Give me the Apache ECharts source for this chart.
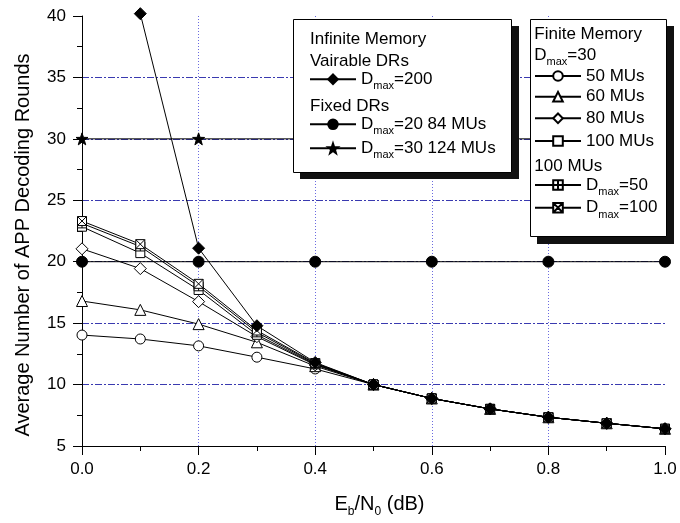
<!DOCTYPE html>
<html><head><meta charset="utf-8">
<script src="https://cdn.jsdelivr.net/npm/echarts@6/dist/echarts.min.js"></script>
<style>html,body{margin:0;padding:0;background:#fff}#c{width:680px;height:523px}</style>
</head><body><div id="c"></div>
<script>
const FONT = '"Liberation Sans", Arial, Helvetica, sans-serif';

// ---- data ----
const xFine = [0, 0.1, 0.2, 0.3, 0.4, 0.5, 0.6, 0.7, 0.8, 0.9, 1.0];
const xCoarse = [0, 0.2, 0.4, 0.6, 0.8, 1.0];
const mu50    = [14.03, 13.71, 13.15, 12.23, 11.27, 10.0, 8.87, 8.02, 7.34, 6.85, 6.40];
const mu60    = [16.80, 16.08, 14.92, 13.44, 11.50, 10.0, 8.87, 8.02, 7.34, 6.85, 6.40];
const mu80    = [21.05, 19.44, 16.75, 13.90, 11.60, 10.0, 8.87, 8.02, 7.34, 6.85, 6.40];
const mu100   = [22.85, 20.70, 17.70, 14.05, 11.65, 10.0, 8.87, 8.02, 7.34, 6.85, 6.40];
const dmax50  = [23.12, 21.24, 18.00, 14.25, 11.70, 10.0, 8.87, 8.02, 7.34, 6.85, 6.40];
const dmax100 = [23.31, 21.43, 18.20, 14.40, 11.75, 10.0, 8.87, 8.02, 7.34, 6.85, 6.40];
const dmax200 = [null, 40.19, 21.10, 14.79, 11.80, 10.0, 8.87, 8.02, 7.34, 6.85, 6.40];
const fixed20 = [20, 20, 20, 20, 20, 20];
const fixed30 = [30, 30, 30, 30, 30, 30];

const legendLabels = {
  dmax200: '{d|D}{s|max}{d|=200}',
  fixed20: '{d|D}{s|max}{d|=20 84 MUs}',
  fixed30: '{d|D}{s|max}{d|=30 124 MUs}',
  mu50: '{d|50 MUs}',
  mu60: '{d|60 MUs}',
  mu80: '{d|80 MUs}',
  mu100: '{d|100 MUs}',
  dmax50: '{d|D}{s|max}{d|=50}',
  dmax100: '{d|D}{s|max}{d|=100}'
};
const headings = ['Infinite Memory', 'Vairable DRs', 'Fixed DRs', 'Finite Memory', '{d|D}{s|max}{d|=30}', '100 MUs'];

// ---- styling ----
const STAR = 'path://M10,0 L12.35,6.76 L19.51,6.91 L13.8,11.24 L15.88,18.09 L10,14 L4.12,18.09 L6.2,11.24 L0.49,6.91 L7.65,6.76 Z';
const SQ_PLUS = 'path://M0,0 L10,0 L10,10 L0,10 Z M5,0 L5,10 M0,5 L10,5';
const SQ_X = 'path://M0,0 L10,0 L10,10 L0,10 Z M0,0 L10,10 M10,0 L0,10';

const rich = {
  d: { fontFamily: FONT, fontSize: 17, color: '#000', lineHeight: 25 },
  s: { fontFamily: FONT, fontSize: 11, color: '#000', lineHeight: 11, verticalAlign: 'bottom' }
};

function pairs(xv, yv) {
  const out = [];
  xv.forEach((x, i) => { if (yv[i] !== null) out.push([x, yv[i]]); });
  return out;
}
function mk(name, xv, yv, symbol, size, fill, extra) {
  return Object.assign({
    name: name, type: 'line', data: pairs(xv, yv),
    symbol: symbol, symbolSize: size, showAllSymbol: true,
    lineStyle: { color: '#000', width: 1 },
    itemStyle: { color: fill, borderColor: '#000', borderWidth: 1 },
    emphasis: { disabled: true }
  }, extra || {});
}

const series = [
  mk('mu50', xFine, mu50, 'circle', 10, '#fff'),
  mk('mu60', xFine, mu60, 'triangle', 11, '#fff'),
  mk('mu80', xFine, mu80, 'diamond', 12, '#fff'),
  mk('mu100', xFine, mu100, 'rect', 9, '#fff'),
  mk('dmax50', xFine, dmax50, SQ_PLUS, 9, '#fff'),
  mk('dmax100', xFine, dmax100, SQ_X, 9, '#fff'),
  mk('dmax200', xFine, dmax200, 'diamond', 12, '#000', { clip: false }),
  mk('fixed20', xCoarse, fixed20, 'circle', 11, '#000'),
  mk('fixed30', xCoarse, fixed30, STAR, 12, '#000')
];

function leg(name, left, cy) {
  return {
    data: [name], left: left, top: cy - 12.5, padding: 0, orient: 'horizontal',
    itemWidth: 46, itemHeight: 12, selectedMode: false, z: 60,
    formatter: n => legendLabels[n],
    textStyle: { fontFamily: FONT, fontSize: 17, color: '#000', rich: rich }
  };
}
const legends = [
  leg('dmax200', 309, 83.3),
  leg('fixed20', 309, 128.3),
  leg('fixed30', 309, 152.3),
  leg('mu50', 534, 80),
  leg('mu60', 534, 100.7),
  leg('mu80', 534, 122.3),
  leg('mu100', 534, 145),
  leg('dmax50', 534, 189),
  leg('dmax100', 534, 211.7)
];

function htext(str, x, y) {
  return { type: 'text', x: x, y: y, z: 60,
    style: { text: str, font: '17px ' + FONT, fill: '#000', align: 'left', verticalAlign: 'middle', rich: rich } };
}

const graphic = [
  { type: 'rect', z: 50, shape: { x: 300, y: 26, width: 219, height: 153 }, style: { fill: '#111' } },
  { type: 'rect', z: 51, shape: { x: 293.5, y: 19.5, width: 218, height: 153 }, style: { fill: '#fff', stroke: '#000', lineWidth: 1 } },
  { type: 'rect', z: 50, shape: { x: 537, y: 26, width: 137, height: 218 }, style: { fill: '#111' } },
  { type: 'rect', z: 51, shape: { x: 530.5, y: 19.5, width: 136, height: 217 }, style: { fill: '#fff', stroke: '#000', lineWidth: 1 } },
  htext(headings[0], 310, 39.3),
  htext(headings[1], 310, 61.7),
  htext(headings[2], 310, 106),
  htext(headings[3], 534.3, 34.3),
  htext(headings[4], 534.3, 55),
  htext(headings[5], 534.3, 166.7),
  { type: 'text', x: 23, y: 245, rotation: Math.PI / 2, z: 60,
    style: { text: 'Average Number of APP Decoding Rounds', font: '20px ' + FONT, fill: '#000', align: 'center', verticalAlign: 'middle' } }
];

const chart = echarts.init(document.getElementById('c'), null, { renderer: 'canvas' });
chart.setOption({
  animation: false,
  backgroundColor: '#fff',
  grid: { left: 82, right: 15, top: 16, bottom: 73, containLabel: false },
  xAxis: {
    type: 'value', min: 0, max: 1, interval: 0.2,
    name: '{m|E}{s|b}{m|/N}{s|0}{m| (dB)}',
    nameLocation: 'middle', nameGap: 45,
    nameTextStyle: { padding: [0, 0, 0, 12], rich: {
      m: { fontFamily: FONT, fontSize: 20, color: '#000', lineHeight: 27 },
      s: { fontFamily: FONT, fontSize: 12, color: '#000', lineHeight: 12, verticalAlign: 'bottom' } } },
    axisLine: { show: true, onZero: false, lineStyle: { color: '#000', width: 1 } },
    axisTick: { show: true, length: 9, lineStyle: { color: '#000' } },
    minorTick: { show: true, splitNumber: 2, length: 5, lineStyle: { color: '#000' } },
    axisLabel: { margin: 15, fontFamily: FONT, fontSize: 17, color: '#000', formatter: v => v.toFixed(1) },
    splitLine: { show: true, showMinLine: false, showMaxLine: false, lineStyle: { color: '#6a6ae0', type: [1, 2], width: 1 } }
  },
  yAxis: {
    type: 'value', min: 5, max: 40, interval: 5,
    axisLine: { show: true, onZero: false, lineStyle: { color: '#000', width: 1 } },
    axisTick: { show: true, length: 9, lineStyle: { color: '#000' } },
    minorTick: { show: true, splitNumber: 2, length: 5, lineStyle: { color: '#000' } },
    axisLabel: { margin: 16, fontFamily: FONT, fontSize: 17, color: '#000' },
    splitLine: { show: true, showMinLine: false, showMaxLine: false, lineStyle: { color: '#3a3ab0', type: [7, 2, 2, 2], width: 1 } }
  },
  legend: legends,
  graphic: graphic,
  series: series
});
</script></body></html>
